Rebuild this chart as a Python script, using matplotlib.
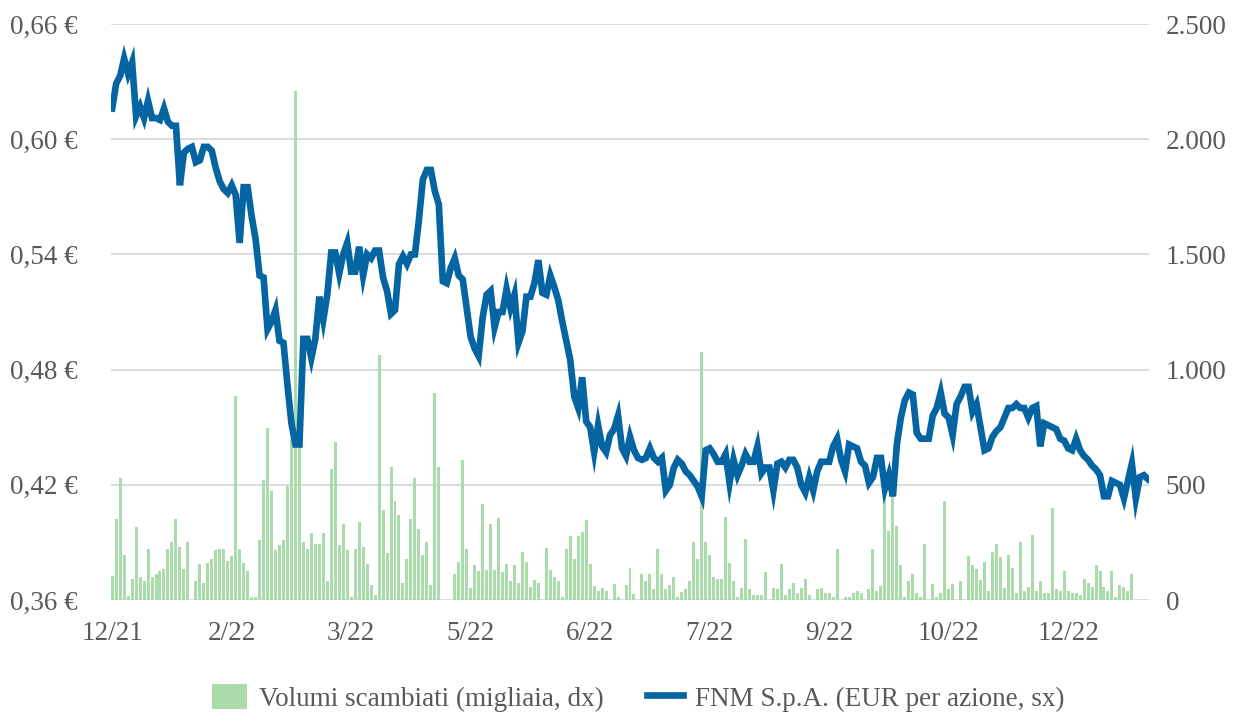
import matplotlib
matplotlib.use('Agg')
import matplotlib.pyplot as plt
from matplotlib.patches import Patch
from matplotlib.lines import Line2D

plt.rcParams['font.family'] = ['Liberation Serif', 'DejaVu Serif']

# FNM S.p.A. closing price (EUR per share), daily, 12/21 - 12/22
price = [
    0.616, 0.629, 0.633, 0.642, 0.634, 0.640, 0.612, 0.617, 0.611, 0.620,
    0.611, 0.611, 0.610, 0.616, 0.609, 0.607, 0.607, 0.576, 0.593, 0.595,
    0.596, 0.588, 0.589, 0.596, 0.596, 0.594, 0.585, 0.578, 0.574, 0.572,
    0.576, 0.571, 0.546, 0.575, 0.575, 0.560, 0.548, 0.529, 0.528, 0.501,
    0.505, 0.511, 0.495, 0.494, 0.472, 0.452, 0.441, 0.441, 0.496, 0.496,
    0.486, 0.496, 0.518, 0.506, 0.519, 0.541, 0.541, 0.530, 0.540, 0.546,
    0.531, 0.531, 0.544, 0.529, 0.540, 0.538, 0.542, 0.542, 0.528, 0.521,
    0.509, 0.511, 0.535, 0.539, 0.535, 0.540, 0.540, 0.558, 0.579, 0.584,
    0.584, 0.573, 0.566, 0.526, 0.525, 0.533, 0.538, 0.529, 0.527, 0.512,
    0.497, 0.491, 0.487, 0.507, 0.519, 0.521, 0.502, 0.510, 0.510, 0.522,
    0.512, 0.519, 0.494, 0.500, 0.518, 0.518, 0.525, 0.537, 0.520, 0.519,
    0.529, 0.523, 0.516, 0.505, 0.495, 0.485, 0.466, 0.460, 0.476, 0.453,
    0.450, 0.437, 0.451, 0.440, 0.437, 0.446, 0.449, 0.456, 0.439, 0.435,
    0.445, 0.438, 0.434, 0.433, 0.434, 0.439, 0.434, 0.432, 0.434, 0.417,
    0.420, 0.429, 0.433, 0.431, 0.427, 0.425, 0.422, 0.419, 0.414, 0.438,
    0.439, 0.436, 0.432, 0.432, 0.436, 0.421, 0.433, 0.425, 0.430, 0.436,
    0.432, 0.432, 0.440, 0.426, 0.429, 0.429, 0.417, 0.431, 0.432, 0.429,
    0.433, 0.433, 0.429, 0.420, 0.416, 0.424, 0.417, 0.427, 0.432, 0.432,
    0.432, 0.440, 0.444, 0.433, 0.427, 0.441, 0.440, 0.439, 0.432, 0.430,
    0.421, 0.424, 0.434, 0.434, 0.418, 0.425, 0.414, 0.441, 0.455, 0.464,
    0.468, 0.467, 0.447, 0.444, 0.444, 0.444, 0.456, 0.460, 0.468, 0.457,
    0.455, 0.446, 0.462, 0.466, 0.471, 0.471, 0.458, 0.462, 0.450, 0.438,
    0.439, 0.445, 0.448, 0.450, 0.455, 0.460, 0.460, 0.462, 0.460, 0.460,
    0.455, 0.460, 0.461, 0.440, 0.452, 0.451, 0.450, 0.449, 0.444, 0.443,
    0.439, 0.438, 0.444, 0.438, 0.435, 0.433, 0.430, 0.428, 0.425, 0.414,
    0.414, 0.422, 0.421, 0.420, 0.413, 0.422, 0.431, 0.413, 0.424, 0.425,
    0.423,
]

# traded volumes (thousands of shares)
volume = [
    106, 351, 531, 196, 16, 90, 319, 98, 82, 221,
    98, 114, 127, 134, 221, 253, 351, 229, 134, 253,
    0, 82, 158, 74, 160, 180, 215, 221, 221, 168,
    190, 887, 221, 160, 126, 13, 13, 261, 523, 748,
    471, 215, 240, 261, 495, 700, 2210, 700, 253, 220,
    289, 245, 245, 289, 82, 569, 686, 237, 332, 215,
    13, 221, 340, 229, 158, 65, 21, 1062, 392, 204,
    577, 430, 368, 74, 176, 351, 531, 306, 196, 253,
    65, 899, 577, 0, 0, 0, 114, 166, 608, 221,
    54, 150, 124, 418, 131, 330, 131, 356, 122, 158,
    82, 150, 74, 209, 167, 57, 87, 74, 0, 225,
    131, 98, 82, 13, 221, 278, 176, 278, 297, 348,
    158, 62, 38, 54, 38, 0, 70, 13, 0, 65,
    139, 25, 0, 114, 82, 114, 46, 221, 114, 46,
    65, 98, 13, 36, 46, 82, 253, 176, 1078, 253,
    196, 98, 90, 90, 359, 160, 82, 13, 54, 265,
    46, 21, 21, 21, 123, 0, 54, 46, 158, 21,
    46, 74, 29, 54, 90, 21, 0, 46, 54, 29,
    29, 13, 220, 0, 13, 13, 29, 38, 29, 0,
    46, 220, 38, 62, 480, 300, 470, 320, 150, 13,
    82, 114, 29, 13, 245, 0, 70, 13, 29, 428,
    46, 70, 0, 82, 0, 193, 150, 134, 87, 167,
    38, 209, 245, 188, 54, 196, 140, 29, 253, 38,
    57, 281, 38, 82, 29, 29, 400, 49, 38, 126,
    38, 29, 29, 21, 90, 74, 57, 152, 126, 57,
    38, 126, 13, 65, 57, 38, 114,
]

date_labels = ['12/21', '2/22', '3/22', '5/22', '6/22', '7/22', '9/22', '10/22', '12/22']
label_step = 30

price_ticks = [0.36, 0.42, 0.48, 0.54, 0.60, 0.66]
price_tick_labels = ['0,36 €', '0,42 €', '0,48 €', '0,54 €', '0,60 €', '0,66 €']
volume_ticks = [0, 500, 1000, 1500, 2000, 2500]
volume_tick_labels = ['0', '500', '1.000', '1.500', '2.000', '2.500']

line_color = '#0565a2'
bar_color = '#a9dcaa'
text_color = '#595959'
fs = 19.5

fig = plt.figure(figsize=(12.39, 7.13), dpi=100)
ax = fig.add_axes([111 / 1239, 1 - 600 / 713, 1038 / 1239, 576 / 713])
ax2 = ax.twinx()

x = list(range(len(price)))

# volumes on the primary axes (drawn first, under the line), ticks on the right
ax.bar(x[:len(volume)], volume, width=0.75, color=bar_color, zorder=2)
ax.set_ylim(0, 2500)
ax.set_yticks(volume_ticks)
ax.set_yticklabels(volume_tick_labels)
ax.yaxis.tick_right()
ax.grid(axis='y', color='#d9d9d9', linewidth=1.3)
ax.set_axisbelow(True)
ax.set_xlim(-0.3, len(price) - 1 + 0.3)
ax.set_xticks(x[::label_step])
ax.set_xticklabels(date_labels)
ax.tick_params(axis='both', length=0, labelsize=fs, labelcolor=text_color)
ax.tick_params(axis='x', pad=15)
ax.tick_params(axis='y', pad=12)
for s in ax.spines.values():
    s.set_visible(False)

# price line on the twin axes, ticks on the left
ax2.plot(x, price, color=line_color, linewidth=4.8, solid_joinstyle='miter', zorder=3)
ax2.set_ylim(0.36, 0.66)
ax2.set_yticks(price_ticks)
ax2.set_yticklabels(price_tick_labels)
ax2.yaxis.tick_left()
ax2.tick_params(axis='y', length=0, labelsize=fs, labelcolor=text_color, pad=24)
for s in ax2.spines.values():
    s.set_visible(False)

handles = [Patch(facecolor=bar_color, edgecolor='none'),
           Line2D([], [], color=line_color, linewidth=4.8)]
labels = ['Volumi scambiati (migliaia, dx)', 'FNM S.p.A. (EUR per azione, sx)']
fig.legend(handles, labels, loc='lower center', bbox_to_anchor=(0.515, -0.033), ncol=2,
           frameon=False, fontsize=fs, labelcolor=text_color, handlelength=1.3,
           handleheight=1.05, handletextpad=0.45, columnspacing=1.6)

fig.savefig('out.png', dpi=100)
